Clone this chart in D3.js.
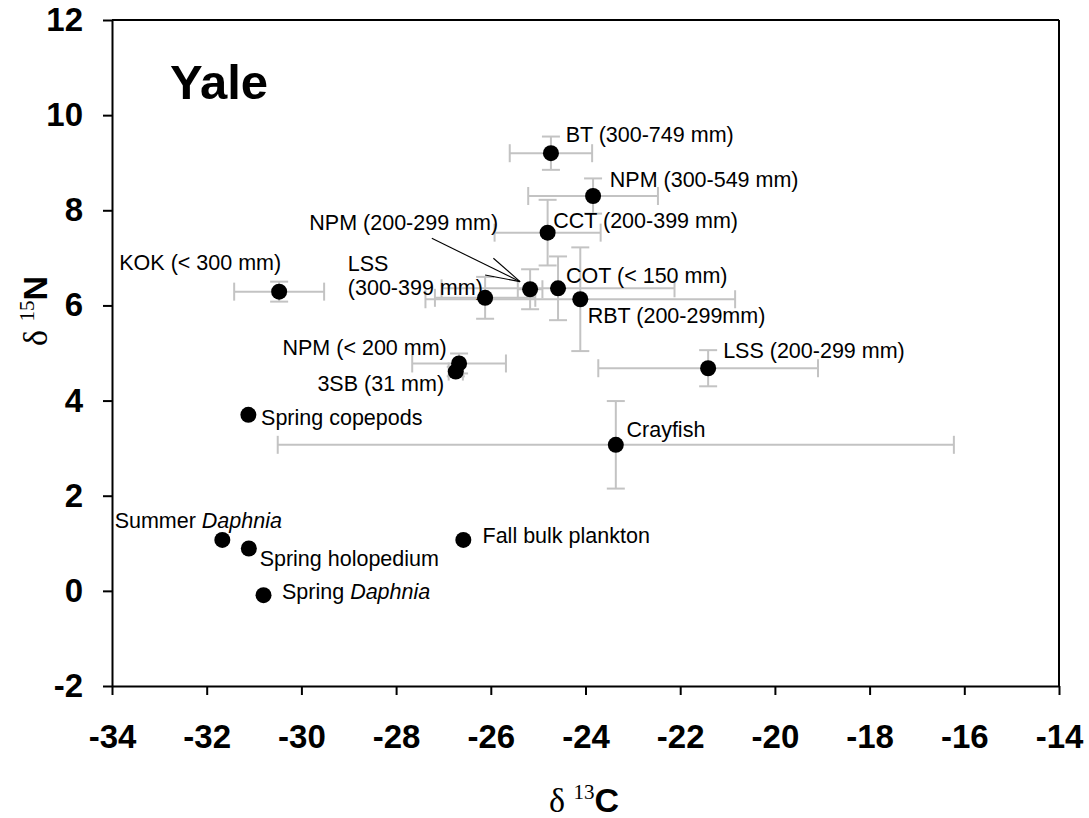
<!DOCTYPE html>
<html>
<head>
<meta charset="utf-8">
<script src="https://cdn.jsdelivr.net/npm/d3@7"></script>
<style>
  html, body { margin: 0; padding: 0; background: #fff; }
  svg { display: block; }
  .tick text { font-family: "Liberation Sans", Arial, sans-serif; font-weight: bold; font-size: 33px; fill: #000; }
</style>
</head>
<body>
<svg id="chart" width="1089" height="818"></svg>
<script>
// Stable isotope biplot for Yale: mean δ13C / δ15N with ± error bars
const groups = [
  "BT (300-749 mm)", "NPM (300-549 mm)", "CCT (200-399 mm)", "COT (< 150 mm)",
  "RBT (200-299mm)", "NPM (200-299 mm)", "LSS (300-399 mm)", "KOK (< 300 mm)",
  "NPM (< 200 mm)", "3SB (31 mm)", "Spring copepods", "Crayfish",
  "LSS (200-299 mm)", "Summer Daphnia", "Spring holopedium", "Spring Daphnia",
  "Fall bulk plankton"
];
const d13C    = [-24.73, -23.84, -24.80, -24.58, -24.11, -25.17, -26.12, -30.47, -26.67, -26.74, -31.12, -23.36, -21.41, -31.67, -31.11, -30.80, -26.58];
const d15N    = [  9.20,   8.30,   7.53,   6.36,   6.13,   6.34,   6.16,   6.29,   4.78,   4.61,   3.70,   3.07,   4.68,   1.07,   0.89,  -0.09,   1.07];
const d13C_err = [ 0.87,   1.37,   1.12,   2.46,   3.27,   0.26,   1.06,   0.95,   0.99,   0.15,   0,      7.14,   2.32,   0,      0,      0,      0];
const d15N_err = [ 0.35,   0.37,   0.69,   0.67,   1.09,   0.42,   0.44,   0.21,   0.21,   0.10,   0,      0.92,   0.38,   0,      0,      0,      0];

const xTicks = [-34, -32, -30, -28, -26, -24, -22, -20, -18, -16, -14];
const yTicks = [-2, 0, 2, 4, 6, 8, 10, 12];

const W = 1089, H = 818;
const plot = { left: 112, top: 20, right: 1059, bottom: 686 };
const sans = '"Liberation Sans", Arial, sans-serif';
const serif = '"Liberation Serif", "Times New Roman", serif';

const svg = d3.select("#chart");
const x = d3.scaleLinear().domain([-34, -14]).range([plot.left, plot.right]);
const y = d3.scaleLinear().domain([-2, 12]).range([plot.bottom, plot.top]);

const pts = groups.map((g, i) => ({
  name: g, cx: d13C[i], cy: d15N[i], ex: d13C_err[i], ey: d15N_err[i]
}));

// Error bars
const errColor = "#c3c3c3";
const cap = 9;
const eb = svg.append("g").attr("stroke", errColor).attr("stroke-width", 2).attr("fill", "none");
pts.forEach(p => {
  if (p.ex > 0) {
    const x0 = x(p.cx - p.ex), x1 = x(p.cx + p.ex), yy = y(p.cy);
    eb.append("line").attr("x1", x0).attr("x2", x1).attr("y1", yy).attr("y2", yy);
    eb.append("line").attr("x1", x0).attr("x2", x0).attr("y1", yy - cap).attr("y2", yy + cap);
    eb.append("line").attr("x1", x1).attr("x2", x1).attr("y1", yy - cap).attr("y2", yy + cap);
  }
  if (p.ey > 0) {
    const y0 = y(p.cy - p.ey), y1 = y(p.cy + p.ey), xx = x(p.cx);
    eb.append("line").attr("x1", xx).attr("x2", xx).attr("y1", y0).attr("y2", y1);
    eb.append("line").attr("x1", xx - cap).attr("x2", xx + cap).attr("y1", y0).attr("y2", y0);
    eb.append("line").attr("x1", xx - cap).attr("x2", xx + cap).attr("y1", y1).attr("y2", y1);
  }
});

// Axes with outward ticks
const xAxis = d3.axisBottom(x).tickValues(xTicks).tickSize(9).tickSizeOuter(0).tickPadding(30).tickFormat(d3.format("d"));
const yAxis = d3.axisLeft(y).tickValues(yTicks).tickSize(9).tickSizeOuter(0).tickPadding(20).tickFormat(d3.format("d"));

const gx = svg.append("g").attr("transform", `translate(0,${plot.bottom})`).call(xAxis);
const gy = svg.append("g").attr("transform", `translate(${plot.left},0)`).call(yAxis);
[gx, gy].forEach(g => {
  g.select(".domain").attr("stroke", "#000").attr("stroke-width", 2);
  g.selectAll(".tick line").attr("stroke", "#000").attr("stroke-width", 2);
  g.selectAll(".tick text").text(d => d < 0 ? "-" + Math.abs(d) : d);
});

// Frame: top and right edges
svg.append("line").attr("x1", plot.left).attr("x2", plot.right).attr("y1", plot.top).attr("y2", plot.top)
  .attr("stroke", "#000").attr("stroke-width", 2);
svg.append("line").attr("x1", plot.right).attr("x2", plot.right).attr("y1", plot.top).attr("y2", plot.bottom)
  .attr("stroke", "#000").attr("stroke-width", 2);

// Points
svg.append("g").selectAll("circle").data(pts).join("circle")
  .attr("cx", d => x(d.cx)).attr("cy", d => y(d.cy)).attr("r", 8).attr("fill", "#000");

// Point labels: [dx, dy, anchor] from the point, in pixels
const labelPlacement = [
  [14.7, -11.5, "start"], [16.7, -9, "start"], [5.6, -4.4, "start"], [8, -5.6, "start"],
  [7.4, 24, "start"], [-32, -59.3, "end"], [-137.3, -27, "start"], [2, -21.7, "end"],
  [-12.3, -8.3, "end"], [-11.7, 19.3, "end"], [12.7, 10, "start"], [10.7, -8.3, "start"],
  [15, -10, "start"], [-107.7, -12.3, "start"], [10.8, 17.7, "start"], [18.5, 4, "start"],
  [19.2, 3.3, "start"]
];
const labels = svg.append("g").attr("font-family", sans).attr("font-size", "21.5px").attr("fill", "#000");
pts.forEach((p, i) => {
  const [dx, dy, anchor] = labelPlacement[i];
  const t = labels.append("text")
    .attr("x", x(p.cx) + dx).attr("y", y(p.cy) + dy).attr("text-anchor", anchor);
  if (p.name.endsWith("Daphnia")) {
    const [word] = p.name.split(" ");
    t.append("tspan").text(word + " ");
    t.append("tspan").attr("font-style", "italic").text("Daphnia");
  } else if (p.name === "LSS (300-399 mm)") {
    t.append("tspan").text("LSS");
    t.append("tspan").attr("x", x(p.cx) + dx).attr("dy", 24.3).text("(300-399 mm)");
  } else {
    t.text(p.name);
  }
});

// Leader arrow for NPM (200-299 mm)
const npm = pts[5];
const tipX = x(npm.cx) - 10, tipY = y(npm.cy) - 7.6;
const arrow = svg.append("g").attr("stroke", "#000").attr("stroke-width", 1.1).attr("fill", "none");
arrow.append("line").attr("x1", x(npm.cx) - 98.3).attr("y1", y(npm.cy) - 51).attr("x2", tipX).attr("y2", tipY);
arrow.append("line").attr("x1", tipX - 26.7).attr("y1", tipY - 23.4).attr("x2", tipX).attr("y2", tipY);
arrow.append("line").attr("x1", tipX - 35).attr("y1", tipY - 6.7).attr("x2", tipX).attr("y2", tipY);

// Panel title
svg.append("text").attr("x", 170).attr("y", 99)
  .attr("font-family", sans).attr("font-weight", "bold").attr("font-size", "49px").text("Yale");

// Axis titles
function isoTitle(g, mass, el) {
  g.append("tspan").attr("font-family", serif).attr("font-size", "34px").text("δ ");
  g.append("tspan").attr("font-family", serif).attr("font-size", "21px").attr("dy", -13).text(mass);
  g.append("tspan").attr("font-family", sans).attr("font-weight", "bold").attr("font-size", "34px").attr("dy", 13).text(el);
}
const xt = svg.append("text").attr("x", 584).attr("y", 812).attr("text-anchor", "middle");
isoTitle(xt, "13", "C");
const yt = svg.append("text").attr("transform", "translate(47,311) rotate(-90)").attr("text-anchor", "middle");
isoTitle(yt, "15", "N");
</script>
</body>
</html>
